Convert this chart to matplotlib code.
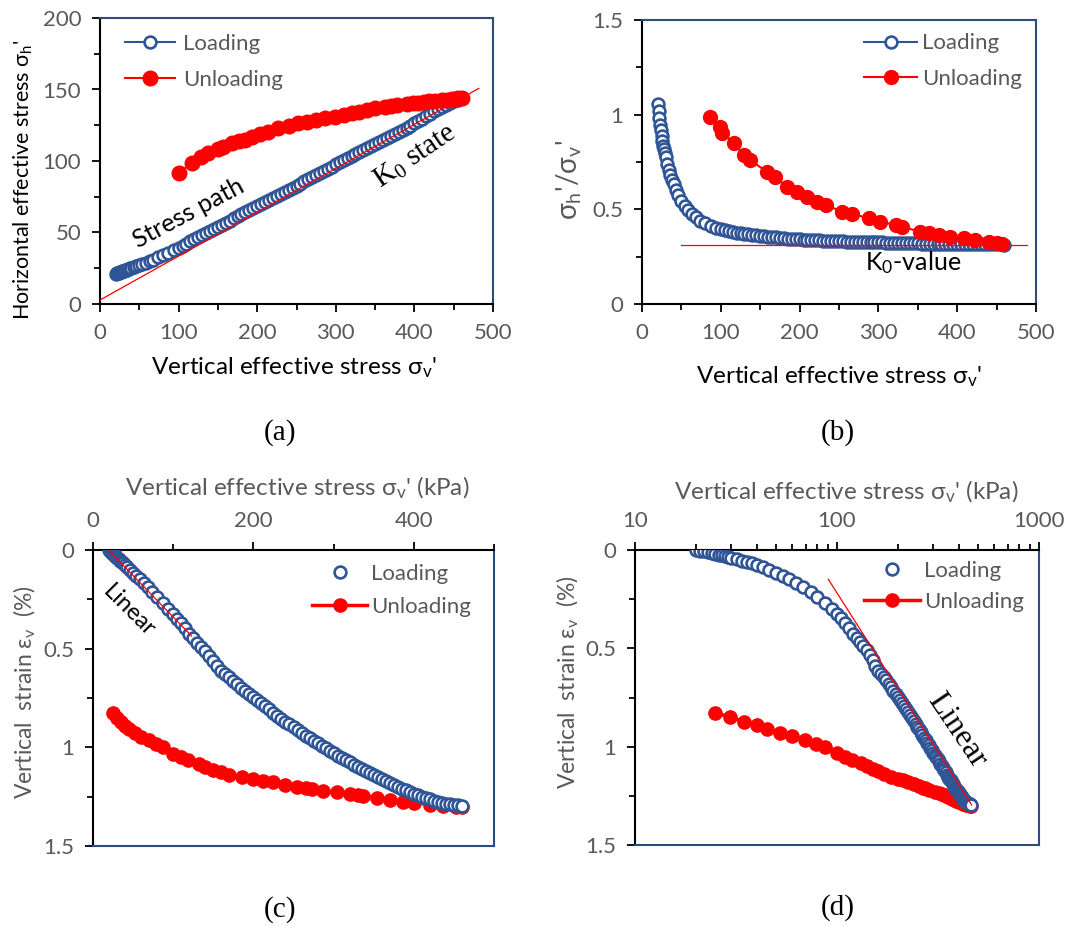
import matplotlib
matplotlib.use("Agg")
import matplotlib.pyplot as plt
from matplotlib.ticker import MultipleLocator, FixedLocator, LogLocator, NullFormatter, FuncFormatter

W, H = 1069, 926

# loading branch (same test, used in all four panels)
load_sv = [20, 21, 22, 23, 24, 25, 26, 27, 28, 29, 30, 32, 34, 36, 38, 40, 43, 46, 50, 54, 58,
           63, 68, 74, 80, 87, 94, 100, 105, 110, 115, 120, 125, 130, 135, 140, 145, 150, 155,
           160, 165, 170, 175, 180, 185, 190, 195, 200, 205, 210, 215, 220, 225, 230, 235, 240,
           245, 250, 255, 260, 265, 270, 275, 280, 285, 290, 295, 300, 305, 310, 315, 320, 325,
           330, 335, 340, 345, 350, 355, 360, 365, 370, 375, 380, 385, 390, 395, 400, 405, 410,
           415, 420, 425, 430, 435, 440, 445, 450, 455, 460]
load_sh = [21.1, 21.4, 21.6, 21.8, 22.0, 22.2, 22.4, 22.6, 22.9, 23.1, 23.3, 23.7, 24.1, 24.5,
           24.9, 25.3, 25.8, 26.4, 27.1, 27.9, 28.8, 29.9, 31.1, 32.6, 34.1, 35.9, 37.8, 39.4,
           40.9, 42.3, 43.8, 45.3, 46.7, 48.2, 49.7, 51.2, 52.6, 54.0, 55.4, 56.9, 58.3, 59.8,
           61.2, 62.6, 64.0, 65.5, 67.0, 68.4, 69.8, 71.2, 72.7, 74.1, 75.5, 77.0, 78.4, 79.9,
           81.3, 82.8, 84.2, 85.7, 87.2, 88.7, 90.1, 91.6, 93.1, 94.6, 96.1, 97.6, 99.1, 100.6,
           102.2, 103.3, 104.7, 106.1, 107.5, 109.0, 110.5, 112.0, 113.4, 114.8, 116.2, 117.7,
           119.1, 120.5, 121.9, 123.3, 124.8, 126.3, 127.9, 129.5, 131.2, 133.0, 134.8, 136.5,
           138.0, 139.5, 140.8, 142.0, 143.0, 144.0]
load_strain = [0.0, 0.003, 0.007, 0.011, 0.015, 0.019, 0.023, 0.027, 0.031, 0.035, 0.039, 0.047,
               0.055, 0.062, 0.068, 0.076, 0.088, 0.100, 0.117, 0.133, 0.149, 0.169, 0.190,
               0.214, 0.239, 0.270, 0.300, 0.326, 0.348, 0.370, 0.397, 0.425, 0.448, 0.470,
               0.490, 0.510, 0.535, 0.560, 0.590, 0.615, 0.630, 0.645, 0.663, 0.680, 0.698,
               0.715, 0.731, 0.747, 0.762, 0.777, 0.793, 0.808, 0.824, 0.840, 0.855, 0.870,
               0.884, 0.898, 0.912, 0.926, 0.941, 0.955, 0.968, 0.980, 0.993, 1.005, 1.018,
               1.030, 1.042, 1.053, 1.064, 1.075, 1.087, 1.098, 1.109, 1.120, 1.131, 1.142,
               1.152, 1.162, 1.172, 1.182, 1.191, 1.200, 1.209, 1.218, 1.227, 1.235, 1.243,
               1.250, 1.257, 1.264, 1.271, 1.277, 1.281, 1.285, 1.288, 1.290, 1.293, 1.295]

# unloading, panel (a)
unl_a_sv = [100, 117, 129, 138, 150, 157, 168, 177, 185, 193, 204, 214, 227, 240, 252, 263, 275,
            286, 299, 310, 320, 329, 340, 350, 363, 370, 378, 390, 398, 405, 412, 418, 426, 435,
            441, 448, 452, 456, 460]
unl_a_sh = [91.8, 98.8, 102.6, 105.4, 108.3, 110.0, 112.8, 114.0, 114.7, 117.0, 118.7, 120.5,
            122.8, 124.6, 126.3, 127.5, 128.7, 129.8, 130.5, 132.0, 133.3, 134.5, 135.6, 136.8,
            138.0, 138.6, 139.2, 139.9, 140.3, 140.8, 141.5, 142.0, 142.3, 142.7, 143.0, 143.4,
            143.6, 143.8, 144.0]

# unloading, panel (b)
unl_b_sv = [86, 99, 102, 117, 129, 137, 158, 169, 184, 197, 209, 222, 233, 254, 267, 288, 302,
            322, 330, 353, 364, 377, 391, 408, 423, 440, 450, 457]
unl_b_ratio = [0.99, 0.937, 0.905, 0.849, 0.787, 0.761, 0.699, 0.669, 0.62, 0.593, 0.563, 0.54,
               0.523, 0.488, 0.475, 0.453, 0.435, 0.417, 0.408, 0.382, 0.373, 0.364, 0.356,
               0.347, 0.338, 0.329, 0.322, 0.317]

# unloading, panels (c) and (d)
unl_cd_sv = [25, 29.5, 34.8, 40, 44.8, 52, 60, 69.5, 79, 87, 100, 110, 118, 132, 140, 150, 160,
             170, 186, 200, 212, 225, 240, 254, 266, 273, 287, 304, 320, 330, 337, 354, 370, 387,
             400, 420, 437, 453, 460]
unl_cd_strain = [0.827, 0.85, 0.873, 0.89, 0.908, 0.928, 0.948, 0.965, 0.985, 1.0, 1.032, 1.05,
                 1.066, 1.085, 1.1, 1.115, 1.125, 1.14, 1.152, 1.163, 1.17, 1.178, 1.19, 1.2,
                 1.208, 1.212, 1.22, 1.228, 1.238, 1.242, 1.246, 1.258, 1.267, 1.276, 1.28,
                 1.29, 1.297, 1.303, 1.3]

# red guide lines
k0_line_sv = [0, 482]
k0_line_sh = [2.8, 150.8]
k0_value_sv = [50, 489]
k0_value = [0.312, 0.312]
lin_c_sv = [19, 123]
lin_c_strain = [0.0, 0.436]
lin_d_sv = [90.6, 464]
lin_d_strain = [0.149, 1.296]

BLUE = "#2F5597"
NAVY = "#2B4C7E"
RED = "#FF0000"
GREY = "#595959"
SERIF = "Liberation Serif"

plt.rcParams["font.family"] = ["Lato", "DejaVu Sans"]
plt.rcParams["mathtext.default"] = "regular"

fig = plt.figure(figsize=(W / 100, H / 100), dpi=100)


def axes_px(left, right, top, bottom):
    return fig.add_axes([left / W, 1 - bottom / H, (right - left) / W, (bottom - top) / H])


def text_px(x, y, s, **kw):
    kw.setdefault("ha", "center")
    kw.setdefault("va", "center")
    fig.text(x / W, 1 - y / H, s, **kw)


def style(ax, black, navy):
    for s in black:
        ax.spines[s].set_color("black")
        ax.spines[s].set_linewidth(1.5)
    for s in navy:
        ax.spines[s].set_color(NAVY)
        ax.spines[s].set_linewidth(1.5)
    ax.tick_params(which="both", direction="out", color="black", width=1.3,
                   labelcolor=GREY, labelsize=16)
    ax.tick_params(which="major", length=5.5, pad=8)
    ax.tick_params(which="minor", length=4)


def legend_px(ax, handles, x, y, hlen, hpad, spacing):
    ax.legend(handles=handles, loc="center left", bbox_to_anchor=(x / W, 1 - y / H),
              bbox_transform=fig.transFigure, frameon=False, borderpad=0, borderaxespad=0,
              handlelength=hlen, handletextpad=hpad, labelspacing=spacing, fontsize=16,
              labelcolor=GREY)


plain = FuncFormatter(lambda v, p: f"{v:g}")
load_style = dict(ms=8.5, mfc="white", mec=BLUE, mew=1.9)

# (a) stress path
ax = axes_px(100, 493, 18, 304)
l1, = ax.plot(load_sv, load_sh, "-o", color=BLUE, lw=1.5, label="Loading", zorder=3,
              **load_style)
l2, = ax.plot(unl_a_sv, unl_a_sh, "-o", color=RED, lw=1.5, ms=10.5, mfc=RED, mec=RED,
              label="Unloading", zorder=4)
ax.plot(k0_line_sv, k0_line_sh, color=RED, lw=0.9, zorder=5)
ax.set_xlim(0, 500)
ax.set_ylim(0, 200)
ax.xaxis.set_major_locator(MultipleLocator(100))
ax.xaxis.set_minor_locator(MultipleLocator(50))
ax.yaxis.set_major_locator(MultipleLocator(50))
ax.yaxis.set_minor_locator(MultipleLocator(25))
style(ax, ("left", "bottom"), ("top", "right"))
legend_px(ax, [l1, l2], 125, 61.5, 2.25, 0.35, 0.72)
text_px(189, 213, "Stress path", rotation=28, fontsize=18, color="black")
text_px(415, 157, "K$_0$ state", rotation=34, fontsize=21, family=SERIF, color="black")
text_px(294, 368, "Vertical effective stress σ$_v$'", fontsize=17.5, color="black")
text_px(23, 180, "Horizontal effective stress σ$_h$'", rotation=90, fontsize=15.5,
        color="black")
text_px(280, 433, "(a)", fontsize=21, family=SERIF)

# (b) stress ratio
ax = axes_px(642, 1036, 20, 304)
load_ratio = [h / v for h, v in zip(load_sh, load_sv)]
l1, = ax.plot(load_sv, load_ratio, "-o", color=BLUE, lw=1.5, label="Loading", zorder=3,
              **load_style)
l2, = ax.plot(unl_b_sv, unl_b_ratio, "-o", color=RED, lw=1.5, ms=10, mfc=RED, mec=RED,
              label="Unloading", zorder=4)
ax.plot(k0_value_sv, k0_value, color=RED, lw=0.9, zorder=5)
ax.set_xlim(0, 500)
ax.set_ylim(0, 1.5)
ax.xaxis.set_major_locator(MultipleLocator(100))
ax.xaxis.set_minor_locator(MultipleLocator(50))
ax.yaxis.set_major_locator(MultipleLocator(0.5))
ax.yaxis.set_minor_locator(MultipleLocator(0.25))
ax.yaxis.set_major_formatter(plain)
style(ax, ("left", "bottom"), ("top", "right"))
legend_px(ax, [l1, l2], 864, 61, 2.4, 0.22, 0.68)
text_px(913, 263, "K$_0$-value", fontsize=18, color="black")
text_px(839, 377, "Vertical effective stress σ$_v$'", fontsize=17.5, color="black")
text_px(569, 180, "σ$_h$'/σ$_v$'", rotation=90, fontsize=20, color=GREY)
text_px(838, 433, "(b)", fontsize=21, family=SERIF)


def strain_axes(ax):
    ax.set_ylim(1.5, 0)
    ax.yaxis.set_major_locator(MultipleLocator(0.5))
    ax.yaxis.set_minor_locator(MultipleLocator(0.25))
    ax.yaxis.set_major_formatter(plain)
    ax.xaxis.tick_top()
    ax.xaxis.set_label_position("top")
    style(ax, ("left", "top"), ("bottom", "right"))


# (c) strain, linear scale
ax = axes_px(93, 494, 550, 846)
l2, = ax.plot(unl_cd_sv, unl_cd_strain, "-o", color=RED, lw=2.5, ms=9.5, mfc=RED, mec=RED,
              label="Unloading", zorder=3)
l1, = ax.plot(load_sv, load_strain, "o", ls="none", label="Loading", zorder=4, **load_style)
ax.plot(lin_c_sv, lin_c_strain, color=RED, lw=0.9, zorder=5)
ax.set_xlim(0, 500)
ax.xaxis.set_major_locator(MultipleLocator(200))
ax.xaxis.set_minor_locator(MultipleLocator(100))
strain_axes(ax)
legend_px(ax, [l1, l2], 312, 590.5, 2.48, 0.18, 0.6)
text_px(129, 611, "Linear", rotation=-45, fontsize=17, color="black")
text_px(297, 488, "Vertical effective stress σ$_v$' (kPa)", fontsize=17.5, color=GREY)
text_px(25, 692, "Vertical  strain ε$_v$  (%)", rotation=90, fontsize=16.5, color=GREY)
text_px(280, 910, "(c)", fontsize=21, family=SERIF)

# (d) strain, log scale
ax = axes_px(635, 1039, 550, 845)
l2, = ax.plot(unl_cd_sv, unl_cd_strain, "-o", color=RED, lw=2.5, ms=9.5, mfc=RED, mec=RED,
              label="Unloading", zorder=3)
l1, = ax.plot(load_sv, load_strain, "o", ls="none", label="Loading", zorder=4, **load_style)
ax.plot(lin_d_sv, lin_d_strain, color=RED, lw=0.9, zorder=5)
ax.set_xscale("log")
ax.set_xlim(10, 1000)
ax.xaxis.set_major_locator(FixedLocator([10, 100, 1000]))
ax.xaxis.set_major_formatter(plain)
ax.xaxis.set_minor_locator(LogLocator(subs=range(2, 10)))
ax.xaxis.set_minor_formatter(NullFormatter())
strain_axes(ax)
legend_px(ax, [l1, l2], 864, 586.5, 2.5, 0.22, 0.5)
text_px(957, 730, "Linear", rotation=-56, fontsize=23, family=SERIF, color="black")
text_px(846, 492, "Vertical effective stress σ$_v$' (kPa)", fontsize=17.5, color=GREY)
text_px(568, 682, "Vertical  strain ε$_v$  (%)", rotation=90, fontsize=16.5, color=GREY)
text_px(838, 908, "(d)", fontsize=21, family=SERIF)

fig.savefig("out.png", dpi=100)
